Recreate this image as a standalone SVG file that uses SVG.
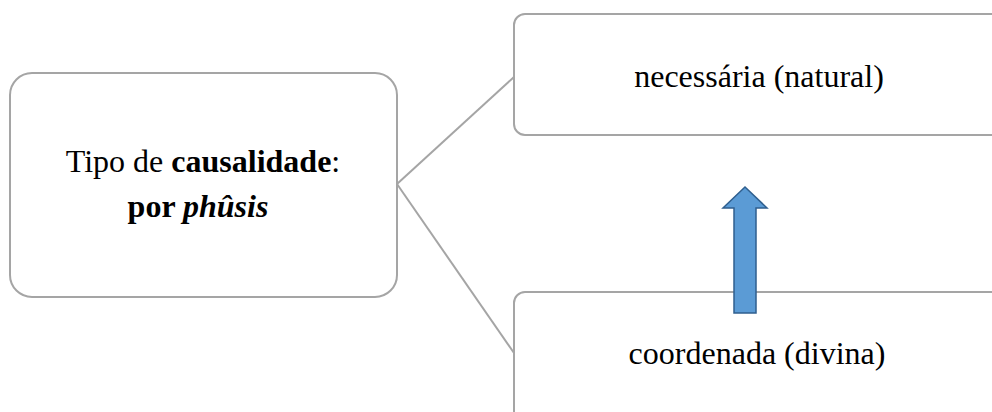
<svg xmlns="http://www.w3.org/2000/svg" width="992" height="412" viewBox="0 0 992 412">
<style>
.box{fill:#fff;stroke:#a5a5a5;stroke-width:2}
.conn{stroke:#a5a5a5;stroke-width:2;fill:none}
.t{font-family:"Liberation Serif","Times New Roman",serif;font-size:32px;fill:#000}
</style>
<rect width="992" height="412" fill="#fff"/>
<g id="connectors">
<line class="conn" x1="397" y1="184" x2="514" y2="77"/>
<line class="conn" x1="397" y1="184" x2="514" y2="353"/>
</g>
<g id="node-tipo">
<rect class="box" x="10" y="73" width="387" height="224" rx="22"/>
<text class="t" x="203" y="172" text-anchor="middle">Tipo de <tspan font-weight="bold">causalidade</tspan>:</text>
<text class="t" x="198" y="217" text-anchor="middle"><tspan font-weight="bold">por </tspan><tspan font-weight="bold" font-style="italic">phûsis</tspan></text>
</g>
<g id="node-necessaria">
<rect class="box" x="514" y="14" width="500" height="121" rx="11"/>
<text class="t" x="759" y="87" text-anchor="middle">necessária (natural)</text>
</g>
<g id="node-coordenada">
<rect class="box" x="514" y="292" width="500" height="140" rx="11"/>
<text class="t" x="757" y="364" text-anchor="middle">coordenada (divina)</text>
</g>
<g id="arrow">
<polygon points="745,187 767,208 756,208 756,313 734,313 734,208 723,208" fill="#5b9bd5" stroke="#2f5f8f" stroke-width="1.5"/>
</g>
</svg>
